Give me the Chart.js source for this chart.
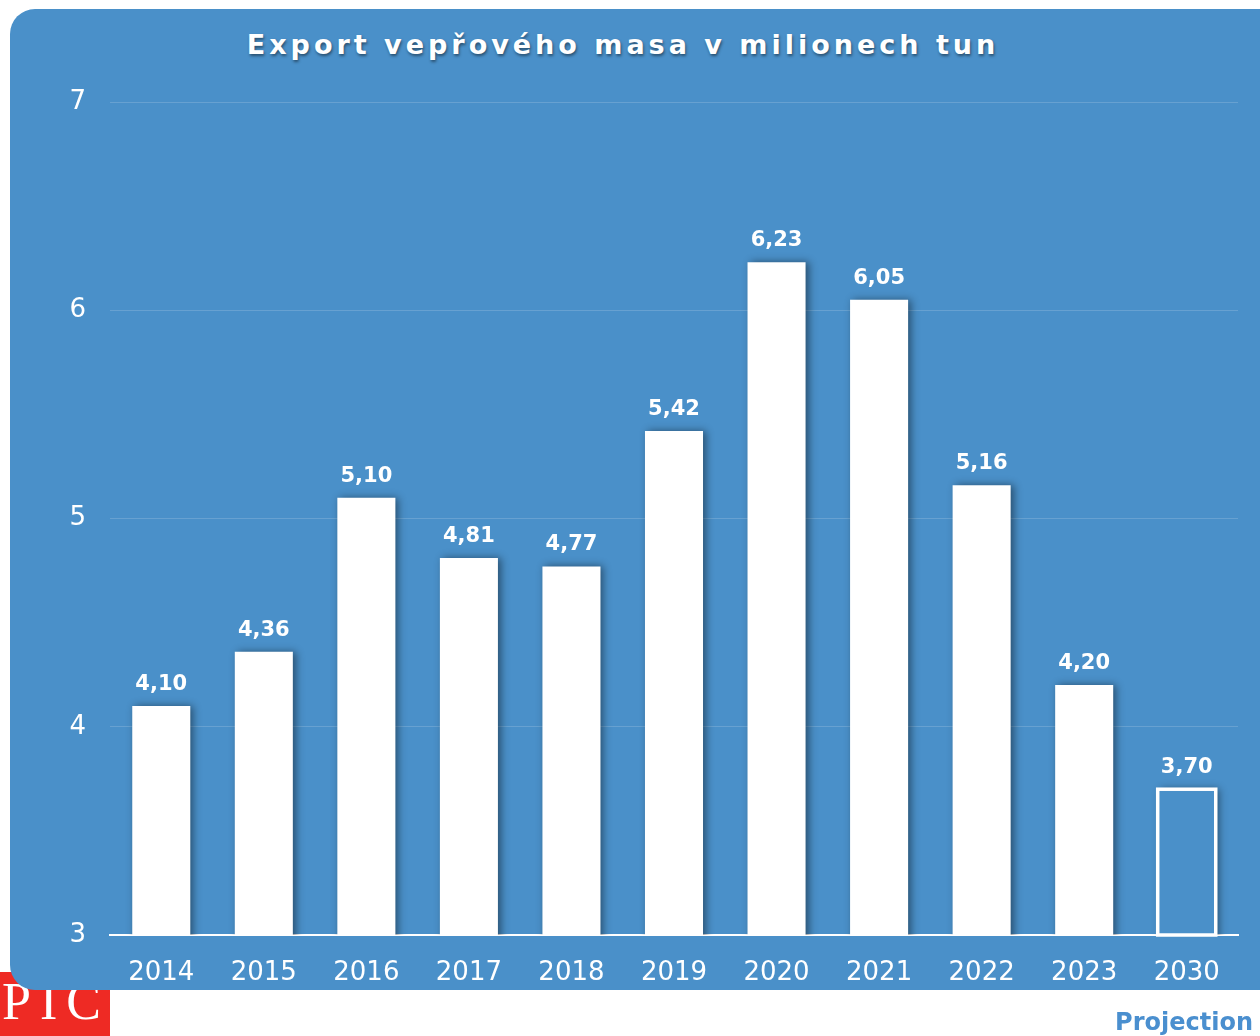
<!DOCTYPE html>
<html lang="cs">
<head>
<meta charset="UTF-8">
<title>Export vepřového masa</title>
<script src="https://cdn.jsdelivr.net/npm/chart.js"></script>
<style>
    body { margin: 0; width: 1260px; height: 1036px; position: relative; overflow: hidden; background: #fff; font-family: "DejaVu Sans", sans-serif; }
    #logo { position: absolute; left: 0; top: 972px; width: 110px; height: 64px; background: #ee2a24; z-index: 1; }
    #logo span { position: absolute; left: 2px; top: 4px; color: #fff; font: 52px "Liberation Serif", serif; letter-spacing: 9px; line-height: 1; }
    #panel { position: absolute; left: 10px; top: 9px; width: 1280px; height: 981px; border-radius: 25px; background: #4a90c9; z-index: 2; }
    #title { position: absolute; left: 0; top: 29px; width: 1246px; text-align: center; margin: 0; z-index: 3;
             color: #fff; font: bold 27px "DejaVu Sans", sans-serif; letter-spacing: 4px; text-shadow: 1px 2px 3px rgba(0,0,0,0.45); }
    #wrap { position: absolute; left: 0; top: 0; width: 1260px; height: 1036px; z-index: 4; }
    #note { position: absolute; right: 7px; top: 1008px; color: #4a8fcf; font: bold 24px "DejaVu Sans", sans-serif; line-height: 1.2; z-index: 5; }
</style>
</head>
<body>
<div id="logo"><span>PIC</span></div>
<div id="panel"></div>
<h1 id="title">Export vepřového masa v milionech tun</h1>
<div id="wrap"><canvas id="chart" width="1260" height="1036"></canvas></div>
<div id="note">Projection</div>
<script>
    const years = ['2014', '2015', '2016', '2017', '2018', '2019', '2020', '2021', '2022', '2023', '2030'];
    const exportMt = [4.10, 4.36, 5.10, 4.81, 4.77, 5.42, 6.23, 6.05, 5.16, 4.20, 3.70];
    const yTicks = [3, 4, 5, 6, 7];
    const projected = ['2030'];

    const panelBlue = '#4a90c9';

    // shadow behind the bars
    const barShadow = {
        id: 'barShadow',
        beforeDatasetsDraw(chart) {
            const c = chart.ctx;
            c.save();
            c.shadowColor = 'rgba(0, 0, 0, 0.45)';
            c.shadowBlur = 8;
            c.shadowOffsetX = 3;
            c.shadowOffsetY = 0;
        },
        afterDatasetsDraw(chart) {
            chart.ctx.restore();
        }
    };

    // white outline on projected bar + value labels above bars
    const valueLabels = {
        id: 'valueLabels',
        afterDatasetsDraw(chart) {
            const c = chart.ctx;
            const meta = chart.getDatasetMeta(0);
            const bottom = chart.chartArea.bottom;
            c.save();
            meta.data.forEach((bar, i) => {
                if (!projected.includes(years[i])) return;
                const w = bar.width;
                c.strokeStyle = '#fff';
                c.lineWidth = 3.5;
                c.strokeRect(bar.x - w / 2, bar.y, w, bottom - bar.y);
            });
            c.fillStyle = '#fff';
            c.font = 'bold 21px "DejaVu Sans"';
            c.textAlign = 'center';
            c.textBaseline = 'bottom';
            meta.data.forEach((bar, i) => {
                c.fillText(exportMt[i].toFixed(2).replace('.', ','), bar.x, bar.y - 11);
            });
            c.restore();
        }
    };

    new Chart(document.getElementById('chart'), {
        type: 'bar',
        data: {
            labels: years,
            datasets: [{
                data: exportMt,
                backgroundColor: years.map(y => projected.includes(y) ? panelBlue : '#fff'),
                borderWidth: 0,
                barPercentage: 0.566,
                categoryPercentage: 1
            }]
        },
        options: {
            responsive: false,
            animation: false,
            layout: { padding: { left: 0, right: 22, top: 102, bottom: 0 } },
            plugins: { legend: { display: false }, tooltip: { enabled: false } },
            scales: {
                x: {
                    grid: { display: false, drawTicks: false },
                    border: { color: '#fff', width: 2 },
                    ticks: { color: '#fff', font: { family: 'DejaVu Sans', size: 26 }, padding: 23 },
                    afterFit(s) { s.height = 101; }
                },
                y: {
                    min: 3,
                    max: 7,
                    afterBuildTicks(s) { s.ticks = yTicks.map(v => ({ value: v })); },
                    grid: { color: 'rgba(255, 255, 255, 0.16)', lineWidth: 1, drawTicks: false },
                    border: { display: false },
                    ticks: { color: '#fff', font: { family: 'DejaVu Sans', size: 26 }, padding: 24 },
                    afterFit(s) { s.width = 110; }
                }
            }
        },
        plugins: [barShadow, valueLabels]
    });
</script>
</body>
</html>
